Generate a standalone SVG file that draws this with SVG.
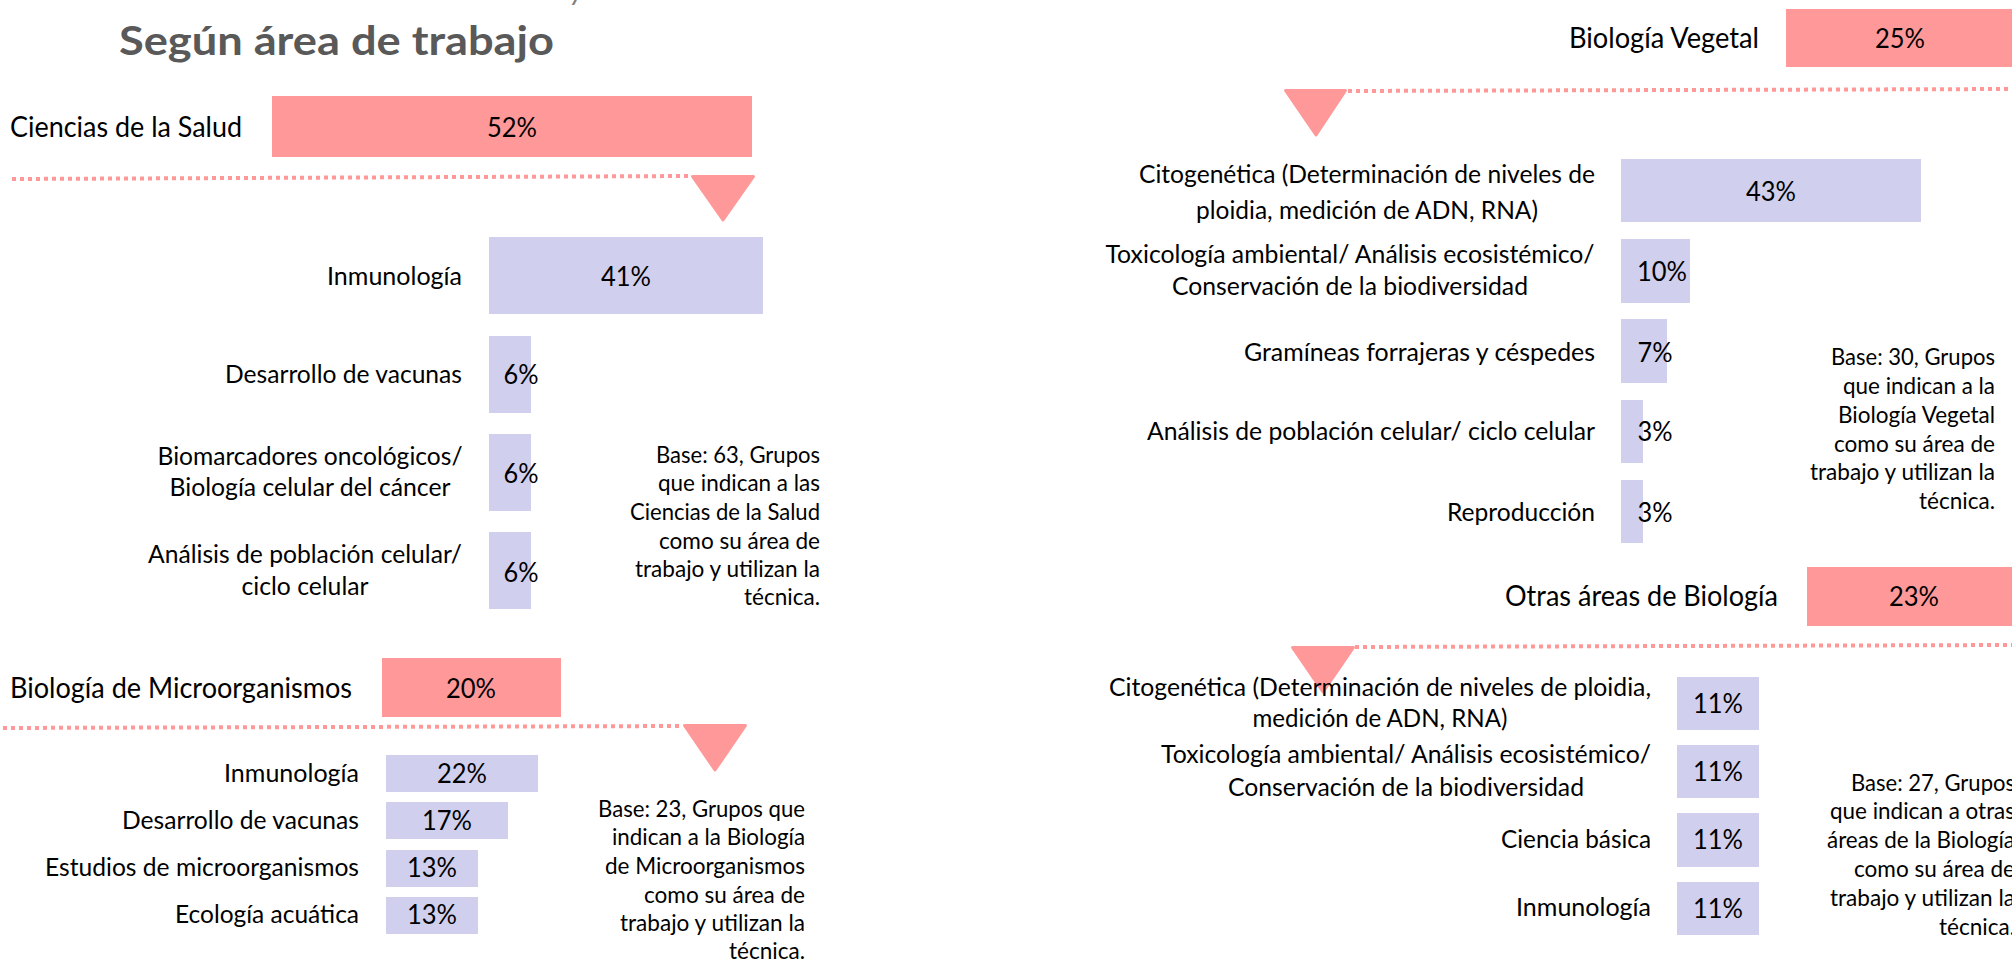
<svg xmlns="http://www.w3.org/2000/svg" width="2012" height="963" viewBox="0 0 2012 963">
<style>
text{font-family:Lato,"Open Sans","Liberation Sans",sans-serif;fill:#000;}
.t{font-size:41px;font-weight:bold;fill:#595959;}
.h{font-size:28px;}
.l{font-size:25px;}
.n{font-size:22.5px;}
.p{font-size:27px;text-anchor:middle;}
.e{text-anchor:end;}
.m{text-anchor:middle;}
.hb{fill:#FF9999;}
.sb{fill:#D0D0EE;}
.dot{stroke:#FF9999;stroke-width:4;stroke-dasharray:4 4;fill:none;}
.tri{fill:#FF9999;stroke:#FF9999;stroke-width:3;stroke-linejoin:round;}
</style>
<rect width="2012" height="963" fill="#fff"/>
<text x="570" y="0" style="font-size:30px;font-style:italic;fill:#7f7f7f">y</text>
<g id="title"><text class="t" x="119" y="55" textLength="435" lengthAdjust="spacingAndGlyphs">Según área de trabajo</text></g>

<g id="connectors">
<line class="dot" x1="12" y1="179" x2="691" y2="176"/>
<polygon class="tri" points="692.5,176.5 753.5,176.5 723,220"/>
<line class="dot" x1="3" y1="728" x2="683" y2="726"/>
<polygon class="tri" points="684.5,725.5 745.5,725.5 715,770"/>
<line class="dot" x1="1348" y1="91" x2="2012" y2="89"/>
<polygon class="tri" points="1285.5,90.5 1345.5,90.5 1316,135"/>
<line class="dot" x1="1355" y1="647" x2="2012" y2="645"/>
<polygon class="tri" points="1292.5,647.5 1353.5,647.5 1323,692"/>
</g>

<!-- Ciencias de la Salud -->
<g id="salud">
<rect class="hb" x="272" y="96" width="480" height="61"/>
<text class="h" x="10" y="137" textLength="232" lengthAdjust="spacingAndGlyphs">Ciencias de la Salud</text>
<text class="p" x="512" y="137" textLength="50" lengthAdjust="spacingAndGlyphs">52%</text>
</g>
<g id="salud-inmunologia">
<rect class="sb" x="489" y="237" width="274" height="77"/>
<text class="l e" x="462" y="285" textLength="135" lengthAdjust="spacingAndGlyphs">Inmunología</text>
<text class="p" x="626" y="286" textLength="50" lengthAdjust="spacingAndGlyphs">41%</text>
</g>
<g id="salud-vacunas">
<rect class="sb" x="489" y="336" width="42" height="77"/>
<text class="l e" x="462" y="383" textLength="237" lengthAdjust="spacingAndGlyphs">Desarrollo de vacunas</text>
<text class="p" x="521" y="384" textLength="35" lengthAdjust="spacingAndGlyphs">6%</text>
</g>
<g id="salud-biomarcadores">
<rect class="sb" x="489" y="434" width="42" height="77"/>
<text class="l m" x="310" y="465" textLength="305" lengthAdjust="spacingAndGlyphs">Biomarcadores oncológicos/</text>
<text class="l m" x="310" y="496" textLength="281" lengthAdjust="spacingAndGlyphs">Biología celular del cáncer</text>
<text class="p" x="521" y="483" textLength="35" lengthAdjust="spacingAndGlyphs">6%</text>
</g>
<g id="salud-analisis">
<rect class="sb" x="489" y="532" width="42" height="77"/>
<text class="l m" x="305" y="563" textLength="314" lengthAdjust="spacingAndGlyphs">Análisis de población celular/</text>
<text class="l m" x="305" y="595" textLength="127" lengthAdjust="spacingAndGlyphs">ciclo celular</text>
<text class="p" x="521" y="582" textLength="35" lengthAdjust="spacingAndGlyphs">6%</text>
</g>
<g id="salud-nota">
<text class="n e" x="820" y="463" textLength="164" lengthAdjust="spacingAndGlyphs">Base: 63, Grupos</text>
<text class="n e" x="820" y="491" textLength="162" lengthAdjust="spacingAndGlyphs">que indican a las</text>
<text class="n e" x="820" y="520" textLength="190" lengthAdjust="spacingAndGlyphs">Ciencias de la Salud</text>
<text class="n e" x="820" y="549" textLength="161" lengthAdjust="spacingAndGlyphs">como su área de</text>
<text class="n e" x="820" y="577" textLength="185" lengthAdjust="spacingAndGlyphs">trabajo y utilizan la</text>
<text class="n e" x="820" y="605" textLength="76" lengthAdjust="spacingAndGlyphs">técnica.</text>
</g>

<!-- Biología de Microorganismos -->
<g id="micro">
<rect class="hb" x="382" y="658" width="179" height="59"/>
<text class="h" x="10" y="698" textLength="342" lengthAdjust="spacingAndGlyphs">Biología de Microorganismos</text>
<text class="p" x="471" y="698" textLength="50" lengthAdjust="spacingAndGlyphs">20%</text>
</g>
<g id="micro-inmunologia">
<rect class="sb" x="386" y="755" width="152" height="37"/>
<text class="l e" x="359" y="782" textLength="135" lengthAdjust="spacingAndGlyphs">Inmunología</text>
<text class="p" x="462" y="783" textLength="50" lengthAdjust="spacingAndGlyphs">22%</text>
</g>
<g id="micro-vacunas">
<rect class="sb" x="386" y="802" width="122" height="37"/>
<text class="l e" x="359" y="829" textLength="237" lengthAdjust="spacingAndGlyphs">Desarrollo de vacunas</text>
<text class="p" x="447" y="830" textLength="50" lengthAdjust="spacingAndGlyphs">17%</text>
</g>
<g id="micro-estudios">
<rect class="sb" x="386" y="850" width="92" height="37"/>
<text class="l e" x="359" y="876" textLength="314" lengthAdjust="spacingAndGlyphs">Estudios de microorganismos</text>
<text class="p" x="432" y="877" textLength="50" lengthAdjust="spacingAndGlyphs">13%</text>
</g>
<g id="micro-ecologia">
<rect class="sb" x="386" y="897" width="92" height="37"/>
<text class="l e" x="359" y="923" textLength="184" lengthAdjust="spacingAndGlyphs">Ecología acuática</text>
<text class="p" x="432" y="924" textLength="50" lengthAdjust="spacingAndGlyphs">13%</text>
</g>
<g id="micro-nota">
<text class="n e" x="805" y="817" textLength="207" lengthAdjust="spacingAndGlyphs">Base: 23, Grupos que</text>
<text class="n e" x="805" y="845" textLength="193" lengthAdjust="spacingAndGlyphs">indican a la Biología</text>
<text class="n e" x="805" y="874" textLength="200" lengthAdjust="spacingAndGlyphs">de Microorganismos</text>
<text class="n e" x="805" y="903" textLength="161" lengthAdjust="spacingAndGlyphs">como su área de</text>
<text class="n e" x="805" y="931" textLength="185" lengthAdjust="spacingAndGlyphs">trabajo y utilizan la</text>
<text class="n e" x="805" y="959" textLength="76" lengthAdjust="spacingAndGlyphs">técnica.</text>
</g>

<!-- Biología Vegetal -->
<g id="vegetal">
<rect class="hb" x="1786" y="9" width="228" height="58"/>
<text class="h e" x="1759" y="48" textLength="190" lengthAdjust="spacingAndGlyphs">Biología Vegetal</text>
<text class="p" x="1900" y="48" textLength="50" lengthAdjust="spacingAndGlyphs">25%</text>
</g>
<g id="vegetal-citogenetica">
<rect class="sb" x="1621" y="159" width="300" height="63"/>
<text class="l m" x="1367" y="183" textLength="456" lengthAdjust="spacingAndGlyphs">Citogenética (Determinación de niveles de</text>
<text class="l m" x="1367" y="219" textLength="342" lengthAdjust="spacingAndGlyphs">ploidia, medición de ADN, RNA)</text>
<text class="p" x="1771" y="201" textLength="50" lengthAdjust="spacingAndGlyphs">43%</text>
</g>
<g id="vegetal-toxicologia">
<rect class="sb" x="1621" y="239" width="69" height="64"/>
<text class="l m" x="1350" y="263" textLength="489" lengthAdjust="spacingAndGlyphs">Toxicología ambiental/ Análisis ecosistémico/</text>
<text class="l m" x="1350" y="295" textLength="356" lengthAdjust="spacingAndGlyphs">Conservación de la biodiversidad</text>
<text class="p" x="1662" y="281" textLength="50" lengthAdjust="spacingAndGlyphs">10%</text>
</g>
<g id="vegetal-gramineas">
<rect class="sb" x="1621" y="319" width="46" height="64"/>
<text class="l e" x="1595" y="361" textLength="351" lengthAdjust="spacingAndGlyphs">Gramíneas forrajeras y céspedes</text>
<text class="p" x="1655" y="362" textLength="35" lengthAdjust="spacingAndGlyphs">7%</text>
</g>
<g id="vegetal-analisis">
<rect class="sb" x="1621" y="400" width="22" height="63"/>
<text class="l e" x="1595" y="440" textLength="448" lengthAdjust="spacingAndGlyphs">Análisis de población celular/ ciclo celular</text>
<text class="p" x="1655" y="441" textLength="35" lengthAdjust="spacingAndGlyphs">3%</text>
</g>
<g id="vegetal-reproduccion">
<rect class="sb" x="1621" y="480" width="22" height="63"/>
<text class="l e" x="1595" y="521" textLength="148" lengthAdjust="spacingAndGlyphs">Reproducción</text>
<text class="p" x="1655" y="522" textLength="35" lengthAdjust="spacingAndGlyphs">3%</text>
</g>
<g id="vegetal-nota">
<text class="n e" x="1995" y="365" textLength="164" lengthAdjust="spacingAndGlyphs">Base: 30, Grupos</text>
<text class="n e" x="1995" y="394" textLength="152" lengthAdjust="spacingAndGlyphs">que indican a la</text>
<text class="n e" x="1995" y="423" textLength="157" lengthAdjust="spacingAndGlyphs">Biología Vegetal</text>
<text class="n e" x="1995" y="452" textLength="161" lengthAdjust="spacingAndGlyphs">como su área de</text>
<text class="n e" x="1995" y="480" textLength="185" lengthAdjust="spacingAndGlyphs">trabajo y utilizan la</text>
<text class="n e" x="1995" y="509" textLength="76" lengthAdjust="spacingAndGlyphs">técnica.</text>
</g>

<!-- Otras áreas de Biología -->
<g id="otras">
<rect class="hb" x="1807" y="567" width="214" height="59"/>
<text class="h e" x="1778" y="606" textLength="273" lengthAdjust="spacingAndGlyphs">Otras áreas de Biología</text>
<text class="p" x="1914" y="606" textLength="50" lengthAdjust="spacingAndGlyphs">23%</text>
</g>
<g id="otras-citogenetica">
<rect class="sb" x="1677" y="677" width="82" height="53"/>
<text class="l m" x="1380" y="696" textLength="542" lengthAdjust="spacingAndGlyphs">Citogenética (Determinación de niveles de ploidia,</text>
<text class="l m" x="1380" y="727" textLength="255" lengthAdjust="spacingAndGlyphs">medición de ADN, RNA)</text>
<text class="p" x="1718" y="713" textLength="50" lengthAdjust="spacingAndGlyphs">11%</text>
</g>
<g id="otras-toxicologia">
<rect class="sb" x="1677" y="745" width="82" height="53"/>
<text class="l m" x="1406" y="763" textLength="490" lengthAdjust="spacingAndGlyphs">Toxicología ambiental/ Análisis ecosistémico/</text>
<text class="l m" x="1406" y="796" textLength="356" lengthAdjust="spacingAndGlyphs">Conservación de la biodiversidad</text>
<text class="p" x="1718" y="781" textLength="50" lengthAdjust="spacingAndGlyphs">11%</text>
</g>
<g id="otras-ciencia">
<rect class="sb" x="1677" y="813" width="82" height="54"/>
<text class="l e" x="1651" y="848" textLength="150" lengthAdjust="spacingAndGlyphs">Ciencia básica</text>
<text class="p" x="1718" y="849" textLength="50" lengthAdjust="spacingAndGlyphs">11%</text>
</g>
<g id="otras-inmunologia">
<rect class="sb" x="1677" y="882" width="82" height="53"/>
<text class="l e" x="1651" y="916" textLength="135" lengthAdjust="spacingAndGlyphs">Inmunología</text>
<text class="p" x="1718" y="918" textLength="50" lengthAdjust="spacingAndGlyphs">11%</text>
</g>
<g id="otras-nota">
<text class="n e" x="2015" y="791" textLength="164" lengthAdjust="spacingAndGlyphs">Base: 27, Grupos</text>
<text class="n e" x="2015" y="819" textLength="185" lengthAdjust="spacingAndGlyphs">que indican a otras</text>
<text class="n e" x="2015" y="848" textLength="188" lengthAdjust="spacingAndGlyphs">áreas de la Biología</text>
<text class="n e" x="2015" y="877" textLength="161" lengthAdjust="spacingAndGlyphs">como su área de</text>
<text class="n e" x="2015" y="906" textLength="185" lengthAdjust="spacingAndGlyphs">trabajo y utilizan la</text>
<text class="n e" x="2015" y="935" textLength="76" lengthAdjust="spacingAndGlyphs">técnica.</text>
</g>
</svg>
